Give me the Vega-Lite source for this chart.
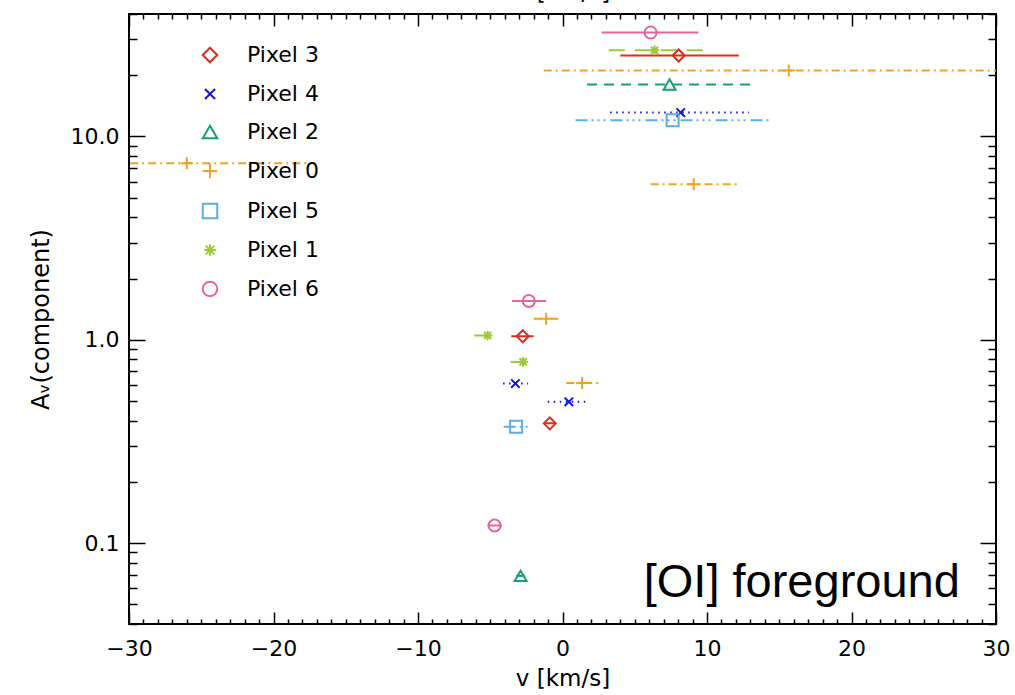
{
  "$schema": "https://vega.github.io/schema/vega-lite/v6.json",
  "autosize": {"type": "none"},
  "width": 867,
  "height": 610,
  "padding": {"left": 129, "top": 14, "right": 19, "bottom": 71},
  "background": "white",
  "config": {
    "font": "DejaVu Sans",
    "view": {"stroke": "#000", "strokeWidth": 2},
    "axis": {
      "domain": false,
      "grid": false,
      "tickColor": "#000",
      "tickWidth": 1.5,
      "labelColor": "#000",
      "titleColor": "#000",
      "labelFont": "DejaVu Sans",
      "labelFontSize": 22,
      "titleFont": "DejaVu Sans",
      "titleFontSize": 23,
      "titleFontWeight": "normal"
    }
  },
  "datasets": {
    "components": [
      {"pixel": "Pixel 6", "v": 6.1, "lo": 2.7, "hi": 9.4, "av": 32.4},
      {"pixel": "Pixel 6", "v": -2.33, "lo": -3.49, "hi": -1.13, "av": 1.55},
      {"pixel": "Pixel 6", "v": -4.7, "lo": -5.2, "hi": -4.2, "av": 0.122},
      {"pixel": "Pixel 1", "v": 6.37, "lo": 3.2, "hi": 9.7, "av": 26.5},
      {"pixel": "Pixel 1", "v": -5.18, "lo": -6.1, "hi": -4.3, "av": 1.05},
      {"pixel": "Pixel 1", "v": -2.73, "lo": -3.6, "hi": -1.9, "av": 0.778},
      {"pixel": "Pixel 3", "v": 8.04, "lo": 4.0, "hi": 12.2, "av": 25.0},
      {"pixel": "Pixel 3", "v": -2.75, "lo": -3.55, "hi": -2.0, "av": 1.04},
      {"pixel": "Pixel 3", "v": -0.88, "lo": -1.3, "hi": -0.5, "av": 0.388},
      {"pixel": "Pixel 0", "v": 15.66, "lo": -1.3, "hi": 32.6, "av": 21.1},
      {"pixel": "Pixel 0", "v": -26.0, "lo": -34.9, "hi": -17.1, "av": 7.37},
      {"pixel": "Pixel 0", "v": 9.08, "lo": 6.1, "hi": 12.1, "av": 5.81},
      {"pixel": "Pixel 0", "v": -1.13, "lo": -1.99, "hi": -0.3, "av": 1.27},
      {"pixel": "Pixel 0", "v": 1.36, "lo": 0.26, "hi": 2.5, "av": 0.613},
      {"pixel": "Pixel 2", "v": 7.41, "lo": 1.7, "hi": 13.2, "av": 18.0},
      {"pixel": "Pixel 2", "v": -2.9, "lo": -3.2, "hi": -2.6, "av": 0.069},
      {"pixel": "Pixel 4", "v": 8.18, "lo": 3.3, "hi": 12.9, "av": 13.1},
      {"pixel": "Pixel 4", "v": -3.26, "lo": -4.11, "hi": -2.38, "av": 0.609},
      {"pixel": "Pixel 4", "v": 0.44, "lo": -1.02, "hi": 1.64, "av": 0.495},
      {"pixel": "Pixel 5", "v": 7.62, "lo": 0.9, "hi": 14.3, "av": 12.0},
      {"pixel": "Pixel 5", "v": -3.21, "lo": -4.07, "hi": -2.35, "av": 0.373}
    ]
  },
  "data": {"name": "components"},
  "layer": [
    {
      "mark": {"type": "rule", "strokeWidth": 2, "clip": true},
      "encoding": {
        "x": {
          "field": "lo", "type": "quantitative",
          "scale": {"domain": [-30, 30], "nice": false, "zero": false},
          "axis": {
            "orient": "bottom",
            "title": "v [km/s]",
            "titlePadding": 1,
            "values": [-30,-29,-28,-27,-26,-25,-24,-23,-22,-21,-20,-19,-18,-17,-16,-15,-14,-13,-12,-11,-10,-9,-8,-7,-6,-5,-4,-3,-2,-1,0,1,2,3,4,5,6,7,8,9,10,11,12,13,14,15,16,17,18,19,20,21,22,23,24,25,26,27,28,29,30],
            "labelExpr": "datum.value % 10 === 0 ? datum.label : ''",
            "labelPadding": 26,
            "labelFlush": false,
            "labelOverlap": false,
            "tickSize": {"condition": {"test": "datum.value % 10 === 0", "value": -12}, "value": -5}
          }
        },
        "x2": {"field": "hi"},
        "y": {
          "field": "av", "type": "quantitative",
          "scale": {"type": "log", "domain": [0.04, 40], "nice": false},
          "axis": {
            "orient": "left",
            "title": "Aᵥ(component)",
            "titlePadding": 17,
            "titleFontSize": 24,
            "values": [0.04,0.05,0.06,0.07,0.08,0.09,0.1,0.2,0.3,0.4,0.5,0.6,0.7,0.8,0.9,1,2,3,4,5,6,7,8,9,10,20,30,40],
            "labelExpr": "datum.value == 0.1 || datum.value == 1 || datum.value == 10 ? format(datum.value, '.1f') : ''",
            "labelPadding": 26,
            "labelOverlap": false,
            "labelFlush": false,
            "tickSize": {"condition": {"test": "datum.value == 0.1 || datum.value == 1 || datum.value == 10", "value": -16}, "value": -8}
          }
        },
        "stroke": {
          "field": "pixel", "type": "nominal",
          "scale": {
            "domain": ["Pixel 0", "Pixel 1", "Pixel 2", "Pixel 3", "Pixel 4", "Pixel 5", "Pixel 6"],
            "range": ["#eea324", "#9ccc34", "#16a078", "#d7301f", "#1414dc", "#5ab0e2", "#e8649f"]
          },
          "legend": null
        },
        "strokeDash": {
          "field": "pixel", "type": "nominal",
          "scale": {
            "domain": ["Pixel 6", "Pixel 5", "Pixel 4", "Pixel 3", "Pixel 2", "Pixel 1", "Pixel 0"],
            "range": [[1, 0], [12, 4, 2, 4, 2, 4, 2, 5], [1.5, 4.5], [1, 0], [10, 7], [16, 10], [8, 4, 2, 4]]
          },
          "legend": null
        }
      }
    },
    {
      "mark": {"type": "point", "filled": false, "strokeWidth": 2, "size": 144, "opacity": 1},
      "encoding": {
        "x": {
          "field": "v", "type": "quantitative",
          "axis": {
            "orient": "top",
            "title": "v [km/s]",
            "titlePadding": 9,
            "labels": false,
            "values": [-30,-29,-28,-27,-26,-25,-24,-23,-22,-21,-20,-19,-18,-17,-16,-15,-14,-13,-12,-11,-10,-9,-8,-7,-6,-5,-4,-3,-2,-1,0,1,2,3,4,5,6,7,8,9,10,11,12,13,14,15,16,17,18,19,20,21,22,23,24,25,26,27,28,29,30],
            "tickSize": {"condition": {"test": "datum.value % 10 === 0", "value": -12}, "value": -5}
          }
        },
        "y": {
          "field": "av", "type": "quantitative",
          "axis": {
            "orient": "right",
            "title": null,
            "labels": false,
            "values": [0.04,0.05,0.06,0.07,0.08,0.09,0.1,0.2,0.3,0.4,0.5,0.6,0.7,0.8,0.9,1,2,3,4,5,6,7,8,9,10,20,30,40],
            "tickSize": {"condition": {"test": "datum.value == 0.1 || datum.value == 1 || datum.value == 10", "value": -16}, "value": -8}
          }
        },
        "color": {
          "field": "pixel", "type": "nominal",
          "scale": {
            "domain": ["Pixel 3", "Pixel 4", "Pixel 2", "Pixel 0", "Pixel 5", "Pixel 1", "Pixel 6"],
            "range": ["#d7301f", "#1414dc", "#16a078", "#eea324", "#5ab0e2", "#9ccc34", "#e8649f"]
          },
          "legend": {
            "orient": "none", "legendX": 70, "legendY": 30, "title": null,
            "labelFontSize": 22, "labelFont": "DejaVu Sans", "labelColor": "#000",
            "symbolSize": 210, "symbolStrokeWidth": 2, "rowPadding": 16, "labelOffset": 26, "padding": 0
          }
        },
        "shape": {
          "field": "pixel", "type": "nominal",
          "scale": {
            "domain": ["Pixel 3", "Pixel 4", "Pixel 2", "Pixel 0", "Pixel 5", "Pixel 1", "Pixel 6"],
            "range": ["diamond", "M-0.7,-0.7L0.7,0.7M-0.7,0.7L0.7,-0.7", "triangle-up", "M-1,0L1,0M0,-1L0,1", "square", "M-0.8,0L0.8,0M0,-0.8L0,0.8M-0.6,-0.6L0.6,0.6M-0.6,0.6L0.6,-0.6", "circle"]
          },
          "legend": {
            "orient": "none", "legendX": 70, "legendY": 30, "title": null,
            "labelFontSize": 22, "labelFont": "DejaVu Sans", "labelColor": "#000",
            "symbolSize": 210, "symbolStrokeWidth": 2, "rowPadding": 16, "labelOffset": 26, "padding": 0
          }
        }
      }
    },
    {
      "data": {"values": [{"note": "[OI] foreground"}]},
      "mark": {"type": "text", "align": "right", "baseline": "alphabetic", "font": "Liberation Sans", "fontSize": 47, "color": "#000"},
      "encoding": {
        "text": {"field": "note"},
        "x": {"datum": 27.5, "type": "quantitative", "axis": null},
        "y": {"datum": 0.0543, "type": "quantitative", "axis": null}
      }
    }
  ],
  "resolve": {"axis": {"x": "independent", "y": "independent"}}
}
